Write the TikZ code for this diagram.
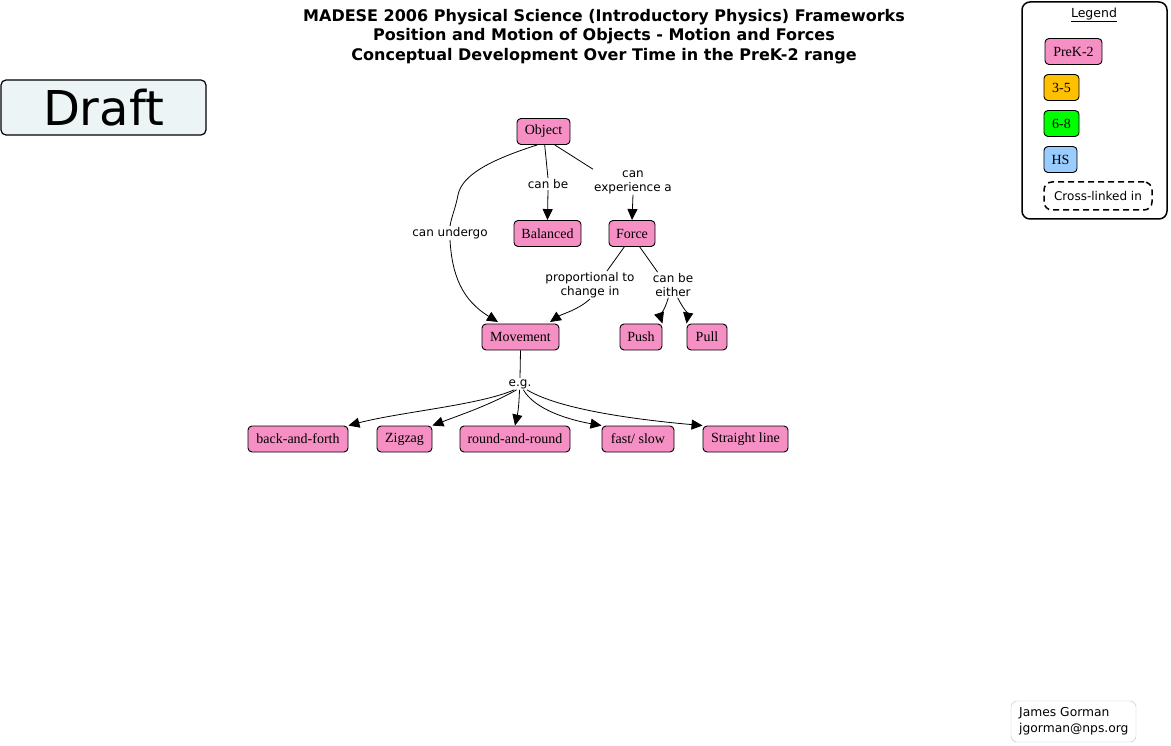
\documentclass[tikz,border=0pt]{standalone}
\usepackage{fontspec}
\setmainfont{Liberation Serif}
\newfontfamily\verd{DejaVu Sans}
\usetikzlibrary{arrows.meta}
\definecolor{pinkc}{RGB}{245,143,196}
\definecolor{orgc}{RGB}{255,192,0}
\definecolor{grnc}{RGB}{0,255,0}
\definecolor{bluc}{RGB}{153,204,255}
\definecolor{draftc}{RGB}{236,244,245}
\begin{document}
\begin{tikzpicture}[x=1pt,y=-1pt,
  concept/.style={draw, rounded corners=4pt, fill=pinkc, line width=0.9pt,
    font=\fontsize{14}{15}\selectfont, inner sep=0pt, minimum height=26pt},
  lab/.style={font=\verd\fontsize{12}{14}\selectfont, align=center, inner sep=1pt},
  arr/.style={-{Triangle[length=11pt,width=10pt]}, line width=0.8pt},
  ln/.style={line width=0.8pt}]
\useasboundingbox (0,0) rectangle (1171,746);
% title
\node[font=\verd\bfseries\fontsize{16}{19.3}\selectfont, align=center] (title) at (604,36.5)
  {MADESE 2006 Physical Science (Introductory Physics) Frameworks\\
   Position and Motion of Objects - Motion and Forces\\
   Conceptual Development Over Time in the PreK-2 range};
% draft
\node[draw, rounded corners=5pt, fill=draftc, line width=1.2pt, minimum width=205pt, minimum height=55pt,
  font=\verd\fontsize{48}{48}\selectfont, inner sep=0pt] (draft) at (103.5,107.5) {Draft};
% legend
\node[draw, rounded corners=8pt, line width=1.5pt, minimum width=145pt, minimum height=217pt] (legend) at (1094.5,110.5) {};
\node[font=\verd\fontsize{12.5}{13}\selectfont, inner sep=0pt] (legt) at (1094,15) {\underline{Legend}};
\node[concept, minimum width=57pt] (lg1) at (1073.5,51.5) {PreK-2};
\node[concept, fill=orgc, minimum width=35pt] (lg2) at (1061.5,87.5) {3-5};
\node[concept, fill=grnc, minimum width=35pt] (lg3) at (1061.5,123.5) {6-8};
\node[concept, fill=bluc, minimum width=33pt] (lg4) at (1060.5,159.5) {HS};
\node[draw, dashed, dash pattern=on 6pt off 4pt, rounded corners=8pt, line width=1.5pt, minimum width=108pt, minimum height=28pt,
  font=\verd\fontsize{12}{13}\selectfont, inner sep=0pt] (lg5) at (1098,196) {Cross-linked in};
% author
\node[draw=black!25, rounded corners=6pt, minimum width=125pt, minimum height=41pt] (auth) at (1073.5,721.5) {};
\node[font=\verd\fontsize{12.3}{16}\selectfont, align=left, anchor=west, inner sep=0pt] (autht) at (1019,721)
  {James Gorman\\jgorman@nps.org};
% concepts
\node[concept, minimum width=53pt] (obj) at (543.5,131.5) {Object};
\node[concept, minimum width=67pt] (bal) at (547.5,233.5) {Balanced};
\node[concept, minimum width=46pt] (force) at (632,233.5) {Force};
\node[concept, minimum width=77pt] (mov) at (520.5,337) {Movement};
\node[concept, minimum width=42pt] (push) at (641,337) {Push};
\node[concept, minimum width=40pt] (pull) at (707,337) {Pull};
\node[concept, minimum width=100pt] (baf) at (298,439) {back-and-forth};
\node[concept, minimum width=55pt] (zig) at (404.5,439) {Zigzag};
\node[concept, minimum width=110pt] (rar) at (515,439) {round-and-round};
\node[concept, minimum width=72pt] (fs) at (638,439) {fast/ slow};
\node[concept, minimum width=85pt] (sl) at (745.5,439) {Straight line};
% labels
\node[lab] (undergo) at (450,233) {can undergo};
\node[lab] (canbe) at (548,184) {can be};
\node[lab] (exp) at (633,182) {can\\experience a};
\node[lab] (prop) at (590,285) {proportional to\\change in};
\node[lab] (either) at (673,285) {can be\\either};
\node[lab] (eg) at (520,384) {e.g.};
% connectors
\draw[ln] (obj.-115) .. controls (490,160) and (462,175) .. (458,195) .. controls (455,210) and (452,215) .. (undergo.north);
\draw[arr] (undergo.south) .. controls (452,275) and (462,300) .. (498,322);
\draw[ln] (obj.-85) -- (canbe.north);
\draw[arr] (canbe.south) -- (bal.north);
\draw[ln] (obj.-50) -- (exp.north west);
\draw[arr] (exp.south) -- (force.north);
\draw[ln] (force.-120) -- ([xshift=17pt]prop.north);
\draw[arr] (prop.south) .. controls (578,310) and (562,314) .. (550,322);
\draw[ln] (force.-60) -- ([xshift=6pt]either.north west);
\draw[arr] (either.-110) .. controls (664,312) and (660,316) .. (push.north east);
\draw[arr] (either.-70) .. controls (684,310) and (688,314) .. (pull.north west);
\draw[ln] (mov.south) -- (eg.north);
\draw[arr] (eg.-135) .. controls (480,405) and (400,412) .. (baf.north east);
\draw[arr] (eg.-120) .. controls (490,405) and (460,415) .. (zig.north east);
\draw[arr] (eg.-95) .. controls (519,405) and (518,412) .. (rar.north);
\draw[arr] (eg.-60) .. controls (535,410) and (570,420) .. (fs.north west);
\draw[arr] (eg.-40) .. controls (560,410) and (640,420) .. (sl.north west);
\end{tikzpicture}
\end{document}
